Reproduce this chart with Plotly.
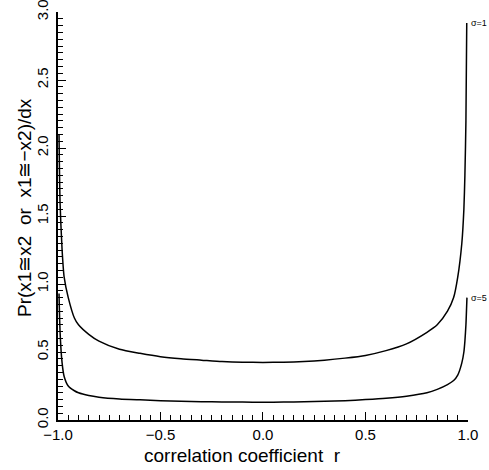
import plotly.graph_objects as go

# correlation coefficient r (x positions)
r_sigma1 = [-0.995, -0.99, -0.98, -0.97, -0.95, -0.92, -0.90, -0.85, -0.80, -0.70, -0.60,
            -0.50, -0.40, -0.30, -0.20, -0.10, 0.00, 0.10, 0.20, 0.30, 0.40,
            0.50, 0.60, 0.70, 0.80, 0.85, 0.90, 0.93, 0.95, 0.97, 0.98,
            0.985, 0.99, 0.994]
y_sigma1 = [2.10, 1.60, 1.25, 1.05, 0.90, 0.75, 0.70, 0.63, 0.58, 0.52, 0.49,
            0.465, 0.45, 0.44, 0.43, 0.425, 0.423, 0.425, 0.43, 0.44, 0.455,
            0.475, 0.51, 0.56, 0.645, 0.70, 0.80, 0.90, 1.05, 1.30, 1.55,
            1.80, 2.20, 2.92]

r_sigma5 = [-0.995, -0.99, -0.98, -0.97, -0.95, -0.92, -0.90, -0.85, -0.80, -0.70,
            -0.60, -0.50, -0.40, -0.30, -0.20, -0.10, 0.00, 0.10, 0.20, 0.30,
            0.40, 0.50, 0.60, 0.70, 0.80, 0.85, 0.90, 0.93, 0.95, 0.97,
            0.98, 0.985, 0.99, 0.995]
y_sigma5 = [0.93, 0.65, 0.42, 0.32, 0.25, 0.215, 0.20, 0.18, 0.168, 0.155,
            0.148, 0.142, 0.138, 0.135, 0.133, 0.132, 0.131, 0.132, 0.134, 0.137,
            0.142, 0.150, 0.160, 0.175, 0.200, 0.225, 0.26, 0.29, 0.33, 0.42,
            0.50, 0.58, 0.70, 0.90]

x_tick_vals = [-1.0, -0.5, 0.0, 0.5, 1.0]
x_tick_text = ["\u22121.0", "\u22120.5", "0.0", "0.5", "1.0"]
y_tick_vals = [0.0, 0.5, 1.0, 1.5, 2.0, 2.5, 3.0]
y_tick_text = ["0.0", "0.5", "1.0", "1.5", "2.0", "2.5", "3.0"]

curve_labels = ["\u03c3=1", "\u03c3=5"]

FONT = "Liberation Sans"

fig = go.Figure()
fig.add_trace(go.Scatter(x=r_sigma1, y=y_sigma1, mode="lines",
                         line=dict(color="black", width=1.5, shape="spline", smoothing=0.6),
                         showlegend=False))
fig.add_trace(go.Scatter(x=r_sigma5, y=y_sigma5, mode="lines",
                         line=dict(color="black", width=1.5, shape="spline", smoothing=0.6),
                         showlegend=False))

fig.add_annotation(xref="paper", x=1.003, y=y_sigma1[-1], text=curve_labels[0], showarrow=False,
                   xanchor="left", yanchor="middle",
                   font=dict(size=9, color="black", family=FONT))
fig.add_annotation(xref="paper", x=1.003, y=y_sigma5[-1], text=curve_labels[1], showarrow=False,
                   xanchor="left", yanchor="middle",
                   font=dict(size=9, color="black", family=FONT))

# axis titles
fig.add_annotation(xref="paper", yref="paper", x=0.451, y=-0.088,
                   text="correlation coefficient  r", showarrow=False,
                   xanchor="center", yanchor="middle",
                   font=dict(size=19, color="black", family=FONT))
fig.add_annotation(xref="paper", yref="paper", x=-0.08, y=0.52,
                   text="Pr(x1\u2245x2  or  x1\u2245\u2212x2)/dx", showarrow=False,
                   textangle=-90, xanchor="center", yanchor="middle",
                   font=dict(size=19, color="black", family=FONT))

fig.update_layout(
    width=489, height=470, autosize=False,
    margin=dict(l=58, r=21, t=12, b=50),
    plot_bgcolor="white", paper_bgcolor="white",
    font=dict(family=FONT, color="black"),
)
fig.update_xaxes(range=[-1, 1.0001], showgrid=False, zeroline=False, automargin=False,
                 showline=True, linecolor="black", linewidth=1.5,
                 ticks="inside", ticklen=8, tickwidth=1, tickcolor="black",
                 tickvals=x_tick_vals, ticktext=x_tick_text,
                 tickfont=dict(size=15, family=FONT), ticklabeloverflow="allow",
                 minor=dict(dtick=0.05, tick0=0, ticks="inside", ticklen=5,
                            tickwidth=1, tickcolor="black", showgrid=False))
fig.update_yaxes(range=[0, 3.0001], showgrid=False, zeroline=False, automargin=False,
                 showline=True, linecolor="black", linewidth=1.5,
                 ticks="inside", ticklen=8, tickwidth=1, tickcolor="black",
                 tickvals=y_tick_vals, ticktext=y_tick_text, tickangle=-90,
                 ticklabelstandoff=2, ticklabeloverflow="allow",
                 tickfont=dict(size=15, family=FONT),
                 minor=dict(dtick=0.05, tick0=0, ticks="inside", ticklen=5,
                            tickwidth=1, tickcolor="black", showgrid=False))

fig.write_html("out.html", config={"displayModeBar": False},
               post_script="document.body.style.margin='0';document.body.style.overflow='hidden';")
